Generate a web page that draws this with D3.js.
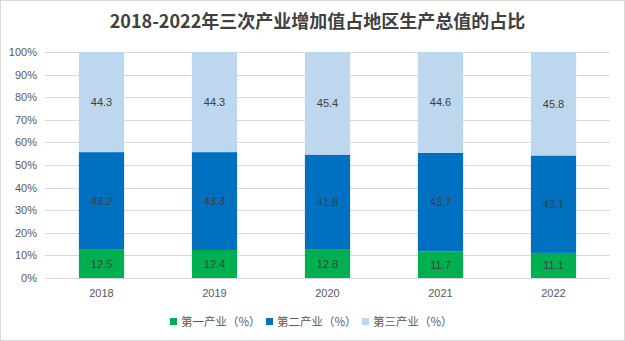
<!DOCTYPE html>
<html>
<head>
<meta charset="utf-8">
<script src="https://cdn.jsdelivr.net/npm/d3@7"></script>
<style>
  body { margin: 0; background: #fff; }
  svg { display: block; font-family: "Noto Sans CJK SC", "Noto Sans", sans-serif; }
</style>
</head>
<body>
<script>
'use strict';

// chart data
const years = ["2018", "2019", "2020", "2021", "2022"];
const primary = [12.5, 12.4, 12.8, 11.7, 11.1];
const secondary = [43.2, 43.3, 41.8, 43.7, 43.1];
const tertiary = [44.3, 44.3, 45.4, 44.6, 45.8];
const seriesNames = ["第一产业（%）", "第二产业（%）", "第三产业（%）"];
const yTicks = [0, 10, 20, 30, 40, 50, 60, 70, 80, 90, 100];

const colors = ["#00B050", "#0070C0", "#BDD7EE"];
const W = 625, H = 341;
const margin = {top: 52, right: 15, bottom: 63, left: 45};

const svg = d3.select("body").append("svg")
  .attr("width", W)
  .attr("height", H);

// outer border
svg.append("rect")
  .attr("x", 0.5).attr("y", 0.5)
  .attr("width", W - 1).attr("height", H - 1)
  .attr("fill", "#fff")
  .attr("stroke", "#D9D9D9");

svg.append("text")
  .attr("x", W / 2 + 5)
  .attr("y", 28)
  .attr("text-anchor", "middle")
  .style("font-size", "18px")
  .style("font-weight", "bold")
  .attr("fill", "#404040")
  .text("2018-2022年三次产业增加值占地区生产总值的占比");

const x = d3.scaleBand()
  .domain(years)
  .range([margin.left, W - margin.right])
  .paddingInner(0.6)
  .paddingOuter(0.3);

const y = d3.scaleLinear()
  .domain([0, 100])
  .range([H - margin.bottom, margin.top]);

// gridlines
svg.append("g")
  .selectAll("line")
  .data(yTicks)
  .enter().append("line")
    .attr("x1", margin.left)
    .attr("x2", W - margin.right)
    .attr("y1", d => Math.round(y(d)) + 0.5)
    .attr("y2", d => Math.round(y(d)) + 0.5)
    .attr("stroke", "#D9D9D9");

// y labels
svg.append("g")
  .selectAll("text")
  .data(yTicks)
  .enter().append("text")
    .attr("x", margin.left - 8)
    .attr("y", d => y(d) + 4)
    .attr("text-anchor", "end")
    .style("font-size", "11px")
    .attr("fill", "#595959")
    .style("font-family", "'Liberation Sans', sans-serif")
    .text(d => d + "%");

// stacked bars
const rows = years.map((yr, i) => ({year: yr, a: primary[i], b: secondary[i], c: tertiary[i]}));
const stack = d3.stack().keys(["a", "b", "c"]);
const layers = stack(rows);

layers.forEach((layer, k) => {
  const g = svg.append("g");
  g.selectAll("rect")
    .data(layer)
    .enter().append("rect")
      .attr("x", d => x(d.data.year))
      .attr("width", x.bandwidth())
      .attr("y", d => y(d[1]))
      .attr("height", d => y(d[0]) - y(d[1]))
      .attr("fill", colors[k]);
  g.selectAll("text")
    .data(layer)
    .enter().append("text")
      .attr("x", d => x(d.data.year) + x.bandwidth() / 2)
      .attr("y", d => (y(d[0]) + y(d[1])) / 2 + 4)
      .attr("text-anchor", "middle")
      .style("font-size", "11px")
      .style("font-family", "'Liberation Sans', sans-serif")
      .attr("fill", "#404040")
      .text(d => (d[1] - d[0]).toFixed(1));
});

// x labels
svg.append("g")
  .selectAll("text")
  .data(years)
  .enter().append("text")
    .attr("x", d => x(d) + x.bandwidth() / 2)
    .attr("y", H - margin.bottom + 19)
    .attr("text-anchor", "middle")
    .style("font-size", "11px")
    .style("font-family", "'Liberation Sans', sans-serif")
    .attr("fill", "#595959")
    .text(d => d);

// legend
const legendX = [170, 266, 362];
const legend = svg.append("g");
seriesNames.forEach((name, i) => {
  legend.append("rect")
    .attr("x", legendX[i])
    .attr("y", 318)
    .attr("width", 7)
    .attr("height", 7)
    .attr("fill", colors[i]);
  legend.append("text")
    .attr("x", legendX[i] + 11)
    .attr("y", 326)
    .style("font-size", "11.5px")
    .attr("fill", "#595959")
    .text(name);
});
</script>
</body>
</html>
